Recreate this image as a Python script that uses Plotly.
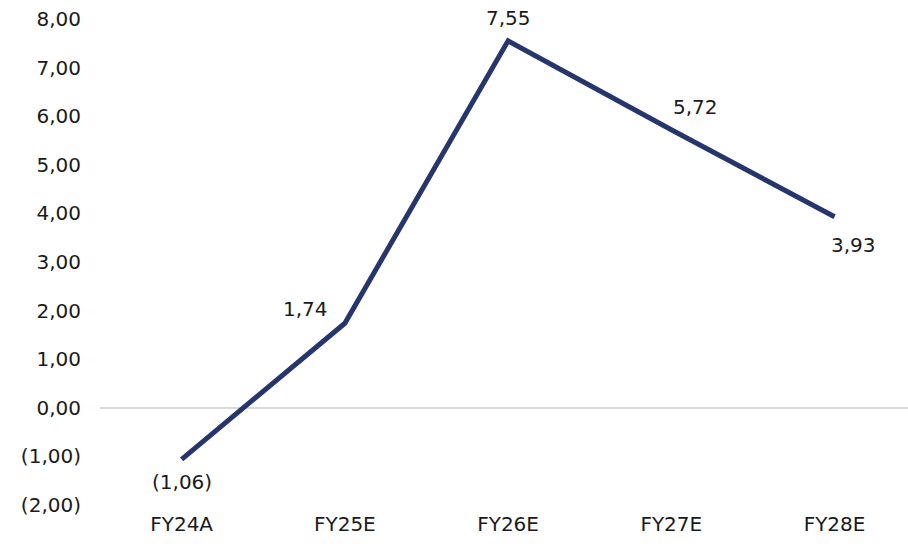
import plotly.graph_objects as go

categories = ["FY24A", "FY25E", "FY26E", "FY27E", "FY28E"]
values = [-1.06, 1.74, 7.55, 5.72, 3.93]
value_labels = ["(1,06)", "1,74", "7,55", "5,72", "3,93"]
y_tickvals = [-2, -1, 0, 1, 2, 3, 4, 5, 6, 7, 8]
y_ticktext = ["(2,00)", "(1,00)", "0,00", "1,00", "2,00", "3,00", "4,00", "5,00", "6,00", "7,00", "8,00"]

# label offsets in pixels (style only)
label_shift = [(0, -23), (-39, 14), (0, 23), (24, 23), (19, -28)]

FONT = "DejaVu Sans"
NAVY = "#26356b"
TXT = "#1a1a1a"

fig = go.Figure()
fig.add_trace(go.Scatter(
    x=list(range(len(categories))), y=values, mode="lines",
    line=dict(color=NAVY, width=5),
    cliponaxis=False, hoverinfo="skip", showlegend=False,
))

for i, (lab, v) in enumerate(zip(value_labels, values)):
    dx, dy = label_shift[i]
    fig.add_annotation(
        x=i, y=v, text=lab, showarrow=False, xshift=dx, yshift=dy,
        font=dict(family=FONT, size=20, color=TXT),
        xanchor="center", yanchor="middle",
    )

fig.update_layout(
    width=908, height=548,
    margin=dict(l=100, r=0, t=19, b=43),
    paper_bgcolor="white", plot_bgcolor="white",
    font=dict(family=FONT, size=20, color=TXT),
    xaxis=dict(
        range=[-0.5, 4.45], tickmode="array",
        tickvals=list(range(len(categories))), ticktext=categories,
        showgrid=False, zeroline=False, showline=False, ticks="",
        automargin=False, ticklabelstandoff=5,
        tickfont=dict(family=FONT, size=20, color=TXT),
    ),
    yaxis=dict(
        range=[-2, 8], tickmode="array", tickvals=y_tickvals, ticktext=y_ticktext,
        showgrid=False, zeroline=True, zerolinecolor="#d9d9d9", zerolinewidth=1.5,
        showline=False, ticks="", ticklabelstandoff=18, automargin=False,
        tickfont=dict(family=FONT, size=20, color=TXT),
    ),
)

fig.write_html(
    "out.html",
    config={"displayModeBar": False, "staticPlot": True},
    post_script="document.body.style.margin='0';document.body.style.overflow='hidden';",
)
